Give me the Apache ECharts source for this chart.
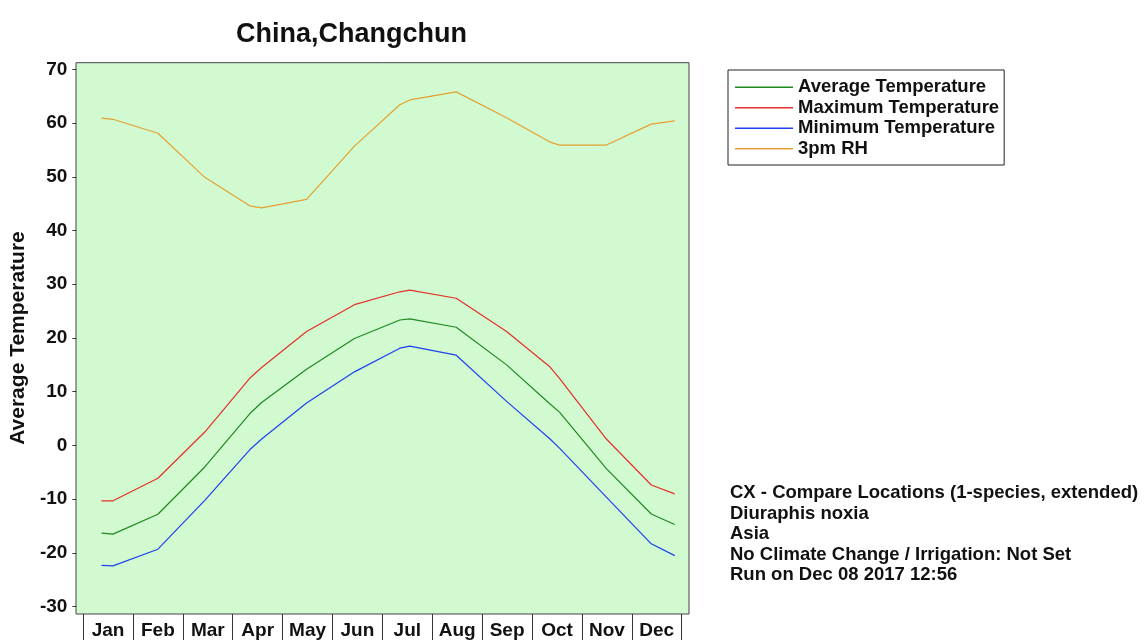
<!DOCTYPE html>
<html><head><meta charset="utf-8">
<script src="https://cdn.jsdelivr.net/npm/echarts@6/dist/echarts.min.js"></script>
<style>html,body{margin:0;padding:0;background:#fff}#c{width:1147px;height:640px}</style>
</head><body><div id="c"></div>
<script>
const titleText = 'China,Changchun';
const months = ['Jan','Feb','Mar','Apr','May','Jun','Jul','Aug','Sep','Oct','Nov','Dec'];
// positions along the year in month units (Jan centre = 0)
const xPos    = [-0.13, 0.10, 1.00, 1.94, 2.84, 3.08, 3.98, 4.94, 5.85, 6.05, 6.98, 7.99, 8.85, 9.05, 9.99, 10.89, 11.36];
const avgTemp = [-16.3, -16.5, -12.8, -4.0, 5.9, 8.0, 14.2, 19.9, 23.35, 23.55, 22.0, 15.0, 7.8, 6.2, -4.3, -12.75, -14.7];
const maxTemp = [-10.3, -10.3, -6.1, 2.5, 12.5, 14.5, 21.2, 26.2, 28.6, 28.9, 27.4, 21.2, 14.7, 12.5, 1.2, -7.35, -9.0];
const minTemp = [-22.3, -22.4, -19.3, -10.2, -0.8, 1.2, 7.9, 13.7, 18.1, 18.5, 16.8, 8.2, 1.3, -0.5, -9.6, -18.3, -20.5];
const rh3pm   = [60.9, 60.7, 58.1, 49.9, 44.6, 44.2, 45.8, 55.7, 63.4, 64.3, 65.8, 61.0, 56.5, 55.9, 55.9, 59.8, 60.4];
const seriesNames = ['Average Temperature','Maximum Temperature','Minimum Temperature','3pm RH'];
const seriesColors = ['#1f8a1f','#e3302a','#2040ee','#e6a030'];
const yMin = -30, yMax = 70, yStep = 10;
const yAxisName = 'Average Temperature';
const infoLines = [
  'CX - Compare Locations (1-species, extended)',
  'Diuraphis noxia',
  'Asia',
  'No Climate Change / Irrigation: Not Set',
  'Run on Dec 08 2017 12:56'
];

const FONT = '"Liberation Sans", Arial, sans-serif';
const seriesData = [avgTemp, maxTemp, minTemp, rh3pm];

const chart = echarts.init(document.getElementById('c'), null, {renderer: 'canvas'});
chart.setOption({
  animation: false,
  backgroundColor: '#ffffff',
  textStyle: {fontFamily: FONT},
  title: [
    {text: titleText, left: 231, top: 16,
     textStyle: {fontFamily: FONT, fontSize: 27, fontWeight: 'bold', color: '#111'}},
    {text: infoLines.join('\n'), left: 725, top: 478,
     textStyle: {fontFamily: FONT, fontSize: 18.5, fontWeight: 'bold', color: '#111', lineHeight: 20.5}}
  ],
  legend: {
    orient: 'vertical', left: 728, top: 70,
    padding: [7, 5, 6, 7],
    backgroundColor: '#fff', borderColor: '#222', borderWidth: 1,
    itemWidth: 58, itemHeight: 1.5, itemGap: 0, itemTextGap: 7,
    icon: 'rect',
    textStyle: {fontFamily: FONT, fontSize: 18.5, fontWeight: 'bold', color: '#111', lineHeight: 20.5},
    data: seriesNames
  },
  grid: [
    {left: 82.7, top: 69.3, width: 599, height: 537.4, show: false},
    {left: 76, top: 62.7, width: 613, height: 551.3, show: true,
     backgroundColor: '#d1fad1', borderColor: '#444', borderWidth: 1}
  ],
  xAxis: [
    {type: 'category', gridIndex: 0, data: months, boundaryGap: true, position: 'bottom', offset: 7.3,
     axisLine: {show: false, onZero: false},
     axisTick: {show: true, length: 30, lineStyle: {color: '#333', width: 1}},
     axisLabel: {fontFamily: FONT, fontSize: 19, fontWeight: 'bold', color: '#111', margin: 7},
     splitLine: {show: false}},
    {type: 'value', gridIndex: 0, min: -0.5, max: 11.5, show: false, axisLine: {onZero: false}},
    {type: 'value', gridIndex: 1, show: false}
  ],
  yAxis: [
    {type: 'value', gridIndex: 0, min: yMin, max: yMax, interval: yStep, offset: 6.7, position: 'left',
     axisLine: {show: false, onZero: false},
     axisTick: {show: true, length: 4, lineStyle: {color: '#333'}},
     axisLabel: {fontFamily: FONT, fontSize: 19, fontWeight: 'bold', color: '#111', margin: 9},
     splitLine: {show: false},
     name: yAxisName, nameLocation: 'middle', nameGap: 42, nameRotate: 90,
     nameTextStyle: {fontFamily: FONT, fontSize: 21, fontWeight: 'bold', color: '#111'}},
    {type: 'value', gridIndex: 1, show: false}
  ],
  series: seriesNames.map((n, k) => ({
    name: n, type: 'line', xAxisIndex: 1, yAxisIndex: 0,
    data: xPos.map((x, i) => [x, seriesData[k][i]]),
    showSymbol: false, symbol: 'none', silent: true,
    color: seriesColors[k],
    lineStyle: {width: 1.2, color: seriesColors[k]}
  }))
});
</script></body></html>
